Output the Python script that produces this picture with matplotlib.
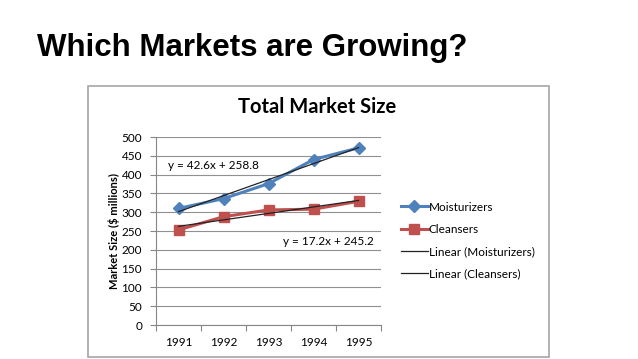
import matplotlib
matplotlib.use('Agg')
import numpy as np
import matplotlib.pyplot as plt
from matplotlib.patches import Rectangle

years = ['1991', '1992', '1993', '1994', '1995']
moisturizers = [310, 336, 376, 440, 471]
cleansers = [253, 288, 306, 308, 329]
yticks = [0, 50, 100, 150, 200, 250, 300, 350, 400, 450, 500]

W, H = 638, 359
fig = plt.figure(figsize=(W / 100, H / 100), dpi=100)

def fx(px):
    return px / W

def fy(py):
    return 1 - py / H

# slide title
fig.text(fx(37), fy(48), 'Which Markets are Growing?', fontsize=22.5, fontweight='bold',
         family='Liberation Sans', va='center', ha='left')

# chart frame
fig.patches.append(Rectangle((fx(88), fy(357)), fx(549) - fx(88), fy(86) - fy(357),
                             transform=fig.transFigure, fill=False, ec='#a6a6a6', lw=1.2))

fig.text(fx(317), fy(107), 'Total Market Size', fontsize=14.5, fontweight='bold',
         family='Lato', ha='center', va='center')

ax = fig.add_axes([fx(156), fy(325), fx(381) - fx(156), fy(137) - fy(325)])
x = np.arange(1, 6)

ax.plot(x, moisturizers, color='#4F81BD', lw=2.2, marker='D', ms=6, label='Moisturizers', zorder=3)
ax.plot(x, cleansers, color='#C0504D', lw=2.2, marker='s', ms=6.5, label='Cleansers', zorder=3)

m1, b1 = np.polyfit(x, moisturizers, 1)
m2, b2 = np.polyfit(x, cleansers, 1)
ax.plot(x, m1 * x + b1, color='#222222', lw=0.9, label='Linear (Moisturizers)', zorder=4)
ax.plot(x, m2 * x + b2, color='#222222', lw=0.9, label='Linear (Cleansers)', zorder=4)

ax.text(0.77, 423, f'y = {m1:.1f}x + {b1:.1f}', fontsize=8.5, family='Lato', va='center')
ax.text(3.32, 223, f'y = {m2:.1f}x + {b2:.1f}', fontsize=8.5, family='Lato', va='center')

ax.set_xlim(0.5, 5.5)
ax.set_ylim(0, 500)
ax.set_yticks(yticks)
ax.set_xticks(np.arange(0.5, 6, 1))
ax.set_xticklabels([])
ax.set_xticks(x, minor=True)
ax.set_xticklabels(years, minor=True)
ax.tick_params(axis='x', which='minor', length=0, pad=9, labelsize=8.5)
ax.tick_params(axis='x', which='major', length=4, color='#868686', direction='out')
ax.tick_params(axis='y', length=4, color='#868686', labelsize=8.5, pad=6)
for lab in ax.get_xticklabels(minor=True) + ax.get_yticklabels():
    lab.set_family('Lato')

ax.grid(axis='y', color='#909090', lw=0.8)
ax.set_axisbelow(True)
for s in ['top', 'right']:
    ax.spines[s].set_visible(False)
for s in ['left', 'bottom']:
    ax.spines[s].set_color('#868686')

ax.set_ylabel('Market Size ($ millions)', fontsize=8, fontweight='bold', family='Lato', labelpad=1)

leg = ax.legend(loc='center left', bbox_to_anchor=(1.04, 0.45), frameon=False,
                prop={'family': 'Lato', 'size': 8.5}, handlelength=2.3, handletextpad=0.1,
                labelspacing=0.95)

fig.savefig('out.png', dpi=100)
